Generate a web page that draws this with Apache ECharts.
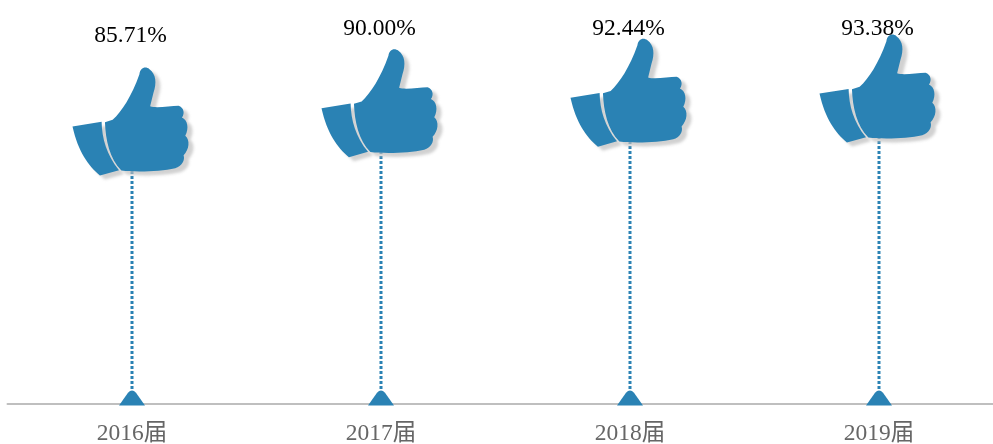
<!DOCTYPE html>
<html>
<head>
<meta charset="utf-8">
<style>html,body{margin:0;padding:0;background:#fff;overflow:hidden}#c{width:993px;height:444px}</style>
<script src="https://cdn.jsdelivr.net/npm/echarts@6/dist/echarts.min.js"></script>
</head>
<body>
<div id="c"></div>
<script>
const categories = ['2016届', '2017届', '2018届', '2019届'];
const values = [85.71, 90.00, 92.44, 93.38];
const labelLift = [86, 74, 64, 60];

const BLUE = '#2a82b4';
const Y_MIN = 20;
const SERIF = '"Liberation Serif","Noto Sans CJK SC",serif';
const thumb = 'path://M68,345 L155,331 C156,380 170,430 207,474 L150,490 C115,460 85,420 68,345 Z ' +
  'M165,332 L188,325 C215,300 245,255 268,190 C270,172 285,165 298,175 C318,190 320,215 310,245 L300,285 ' +
  'C320,292 360,283 385,283 C400,288 405,305 395,318 C412,325 417,350 405,372 C420,385 417,412 400,430 ' +
  'C405,445 395,462 375,468 C330,478 260,480 214,475 C179,440 167,385 165,332 Z';
const cap = 'path://M0,15 L9,4 Q13,0 17,4 L26,15 Z';

const chart = echarts.init(document.getElementById('c'), null, { renderer: 'canvas' });
chart.setOption({
  animation: false,
  backgroundColor: '#fff',
  grid: { left: 7.5, width: 996, top: 0, height: 404, outerBoundsMode: 'none' },
  xAxis: {
    type: 'category',
    data: categories,
    boundaryGap: true,
    axisTick: { show: false },
    axisLine: { lineStyle: { color: '#bfbfbf', width: 2 } },
    axisLabel: { color: '#666', fontFamily: SERIF, fontSize: 23.5, margin: 18 }
  },
  yAxis: { type: 'value', min: Y_MIN, max: 114, show: false, splitLine: { show: false } },
  series: [
    {
      type: 'custom',
      data: values.map((v, i) => [i, v]),
      encode: { x: 0, y: 1 },
      z: 2,
      clip: false,
      renderItem: (params, api) => {
        const top = api.coord([api.value(0), api.value(1)]);
        const bottom = api.coord([api.value(0), Y_MIN]);
        return {
          type: 'line',
          shape: { x1: bottom[0], y1: bottom[1], x2: top[0], y2: top[1] },
          style: { stroke: BLUE, lineWidth: 3, lineDash: [3, 2] }
        };
      }
    },
    {
      type: 'scatter',
      data: values.map(() => Y_MIN),
      symbol: cap,
      symbolSize: [26, 15],
      symbolOffset: [0, -6],
      itemStyle: { color: BLUE, opacity: 1 },
      z: 4,
      clip: false
    },
    {
      type: 'scatter',
      symbol: thumb,
      symbolSize: [116, 108],
      symbolOffset: [-1.5, 0],
      itemStyle: {
        color: BLUE,
        opacity: 1,
        shadowColor: 'rgba(190,190,190,0.7)',
        shadowBlur: 3,
        shadowOffsetX: 5,
        shadowOffsetY: 4
      },
      z: 5,
      clip: false,
      data: values.map((v, i) => ({
        value: v,
        label: {
          show: true,
          position: 'inside',
          offset: [0, -labelLift[i]],
          formatter: v.toFixed(2) + '%',
          color: '#000',
          fontFamily: SERIF,
          fontSize: 23.5
        }
      }))
    }
  ]
});
</script>
</body>
</html>
